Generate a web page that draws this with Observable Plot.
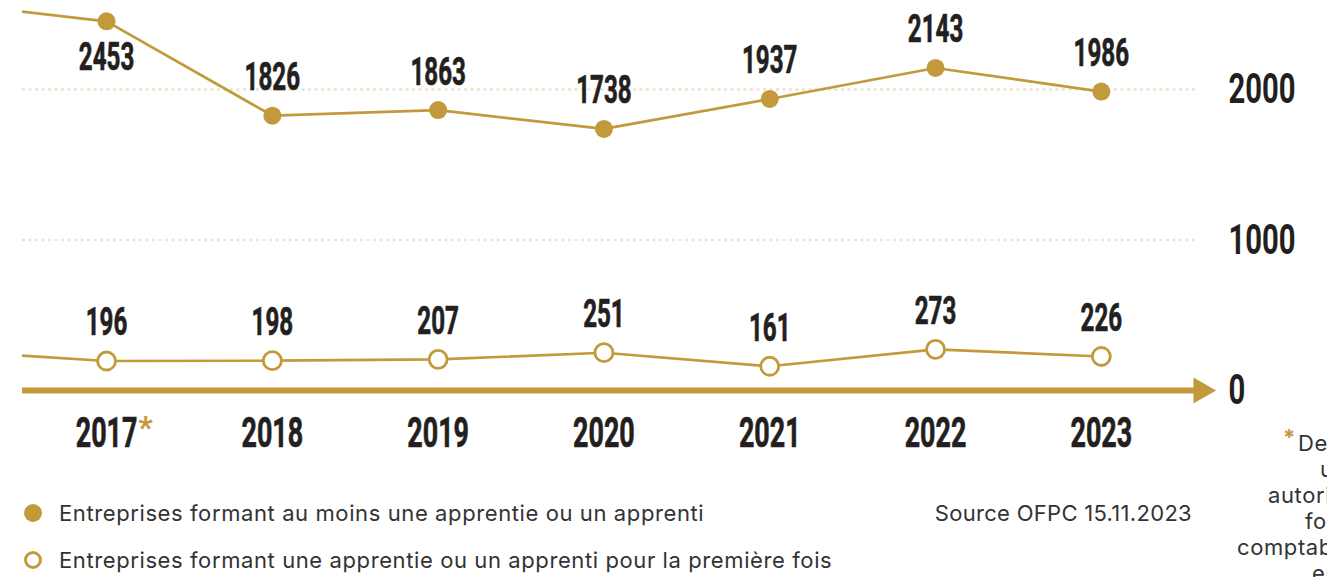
<!DOCTYPE html>
<html>
<head>
<meta charset="utf-8">
<script src="https://cdn.jsdelivr.net/npm/d3@7"></script>
<script src="https://cdn.jsdelivr.net/npm/@observablehq/plot@0.6"></script>
<style>
  html, body { margin: 0; padding: 0; background: #fff; }
  body { width: 1327px; height: 577px; overflow: hidden; position: relative; font-family: Inter, "Noto Sans", sans-serif; color: #333; }
  #chart svg { display: block; }
  #legend { position: relative; height: 97px; }
  .item { position: absolute; left: 22px; height: 26px; line-height: 26px; font-size: 22px; letter-spacing: 0.6px; white-space: nowrap; }
  .item .sym { position: absolute; left: 2px; top: 4px; width: 18px; height: 18px; border-radius: 50%; box-sizing: border-box; }
  .item .lbl { position: absolute; left: 37px; top: 0; }
  #source { position: absolute; right: 135px; top: 500px; font-size: 22px; letter-spacing: 0.3px; line-height: 26px; white-space: nowrap; }
  #note { position: absolute; top: 430px; left: 0; width: 1327px; font-size: 22px; letter-spacing: 0.6px; line-height: 26px; white-space: nowrap; }
  #note div { position: relative; height: 26px; }
  #note div span { position: absolute; top: 0; }
  #note .star { color: #c29a3c; font-weight: bold; position: relative; top: -6px; margin-right: 2px; }
</style>
</head>
<body>
<div id="chart"></div>
<div id="legend"></div>
<div id="source"></div>
<div id="note"></div>
<script>
// ---- data ----
const years = [2016, 2017, 2018, 2019, 2020, 2021, 2022, 2023];
const formingAll = [2580, 2453, 1826, 1863, 1738, 1937, 2143, 1986];
const formingFirst = [265, 196, 198, 207, 251, 161, 273, 226];
const yTicks = [0, 1000, 2000];
const gridValues = [1000, 2000];
const shownYears = [2017, 2018, 2019, 2020, 2021, 2022, 2023];
const starredYears = [2017];
const allLabelBelow = [2017];
const seriesNames = [
  "Entreprises formant au moins une apprentie ou un apprenti",
  "Entreprises formant une apprentie ou un apprenti pour la première fois"
];
const sourceText = "Source OFPC 15.11.2023";
const noteLines = ["Depuis 2017,", "une seule", "autorisation de", "former est", "comptabilisée par", "entreprise."];
const noteStarts = [1283, 1320, 1268, 1305, 1237, 1312];

const gold = "#c29a3c";
const ink = "#231f20";

const allData = years.map((year, i) => ({year, value: formingAll[i]}));
const firstData = years.map((year, i) => ({year, value: formingFirst[i]}));
const shown = d => d.year >= shownYears[0];

const xMin = 2016.493, xMax = 2023.568;
const numStyle = {fontWeight: "bold", fill: ink, stroke: ink, strokeWidth: 0.7};

const plot = Plot.plot({
  width: 1327,
  height: 480,
  marginLeft: 22,
  marginRight: 132,
  marginTop: 0,
  marginBottom: 0,
  style: {fontFamily: "Roboto, sans-serif", fontSize: "42px", background: "transparent", overflow: "visible"},
  x: {domain: [xMin, xMax], axis: null},
  y: {domain: [0, 2000], range: [390, 89]},
  marks: [
    Plot.ruleY(gridValues, {stroke: "#efe3c9", strokeWidth: 2.5, strokeDasharray: "3,3.5"}),
    Plot.ruleY([0], {stroke: gold, strokeWidth: 6}),
    Plot.dot([0], {x: () => xMax + 0.033, y: d => d, symbol: "triangle", rotate: 90, r: 9.7, fill: gold}),
    Plot.line(allData, {x: "year", y: "value", stroke: gold, strokeWidth: 2.7, clip: true}),
    Plot.line(firstData, {x: "year", y: "value", stroke: gold, strokeWidth: 2.7, clip: true}),
    Plot.dot(allData.filter(shown), {x: "year", y: "value", r: 9, fill: gold}),
    Plot.dot(firstData.filter(shown), {x: "year", y: "value", r: 9, fill: "white", stroke: gold, strokeWidth: 2.8}),
    Plot.text(allData.filter(d => shown(d) && !allLabelBelow.includes(d.year)), {x: "year", y: "value", text: d => String(d.value), dy: -38, fontSize: 39, ...numStyle}),
    Plot.text(allData.filter(d => allLabelBelow.includes(d.year)), {x: "year", y: "value", text: d => String(d.value), dy: 36, fontSize: 39, ...numStyle}),
    Plot.text(firstData.filter(shown), {x: "year", y: "value", text: d => String(d.value), dy: -38, fontSize: 39, ...numStyle}),
    Plot.text(shownYears, {x: d => d, y: () => 0, text: d => String(d), dy: 43, fontSize: 42, ...numStyle}),
    Plot.text(starredYears, {x: d => d, y: () => 0, text: () => "*", dx: 39, dy: 37, fontSize: 32, fontWeight: "bold", fill: gold}),
    Plot.axisY(yTicks, {anchor: "right", label: null, tickSize: 0, tickPadding: 33, tickFormat: d => String(d), fontSize: 43, ...numStyle})
  ]
});
document.getElementById("chart").appendChild(plot);

// condense the numeric labels (display face is a narrow gothic)
function squeeze(g, s) {
  g.querySelectorAll("text").forEach(t => {
    const tr = t.getAttribute("transform");
    if (tr) {
      t.setAttribute("transform", tr + ` scale(${s},1)`);
    } else {
      const x = +t.getAttribute("x") || 0, y = +t.getAttribute("y") || 0;
      t.removeAttribute("x"); t.removeAttribute("y");
      t.setAttribute("transform", `translate(${x},${y}) scale(${s},1)`);
    }
  });
}
const textGroups = plot.querySelectorAll('g[aria-label="text"]');
squeeze(textGroups[0], 0.62);
squeeze(textGroups[1], 0.62);
squeeze(textGroups[2], 0.62);
squeeze(textGroups[3], 0.64);
plot.querySelectorAll('g[aria-label="y-axis tick label"]').forEach(g => squeeze(g, 0.68));

// legend
const legend = document.getElementById("legend");
seriesNames.forEach((name, i) => {
  const item = document.createElement("div");
  item.className = "item";
  item.style.top = (20 + i * 47) + "px";
  const sym = document.createElement("span");
  sym.className = "sym";
  if (i === 0) sym.style.background = gold;
  else { sym.style.border = `3px solid ${gold}`; sym.style.background = "#fff"; }
  const lbl = document.createElement("span");
  lbl.className = "lbl";
  lbl.textContent = name;
  item.appendChild(sym); item.appendChild(lbl);
  legend.appendChild(item);
});
document.getElementById("source").textContent = sourceText;

// footnote (cut by the right edge, as in the original page)
const note = document.getElementById("note");
noteLines.forEach((line, i) => {
  const row = document.createElement("div");
  const span = document.createElement("span");
  span.style.left = noteStarts[i] + "px";
  span.innerHTML = (i === 0 ? `<span class="star">*</span>` : "") + line;
  row.appendChild(span);
  note.appendChild(row);
});
</script>
</body>
</html>
